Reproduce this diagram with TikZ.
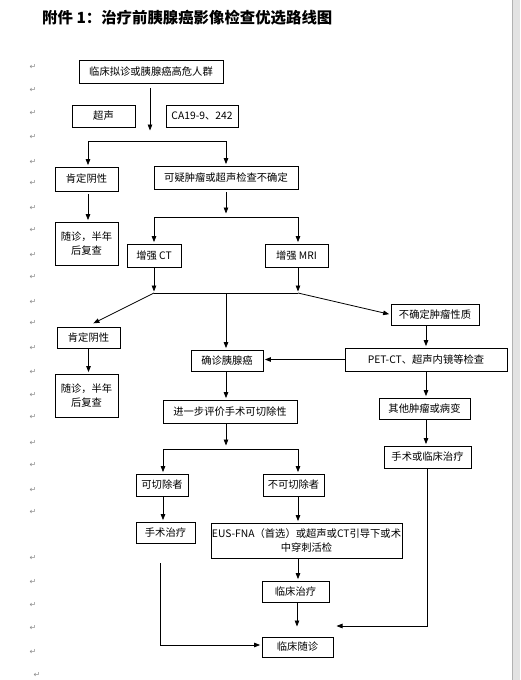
\documentclass[tikz,border=0pt]{standalone}
\usepackage{fontspec}
\setmainfont{Noto Sans CJK SC}
\newfontfamily\djv{DejaVu Sans}
\usetikzlibrary{arrows.meta}
\begin{document}
\begin{tikzpicture}[x=1pt,y=-1pt,
  box/.style={draw, line width=0.8pt, inner sep=0pt, align=center, font=\fontsize{10.3}{13.5}\selectfont},
  wh/.style n args={2}{minimum width=#1pt, minimum height=#2pt},
  arr/.style={line width=0.8pt, -{Triangle[length=6pt,width=4.5pt]}, shorten >=1.5pt},
  ln/.style={line width=0.8pt},
  pmark/.style={text=black!45, font=\djv\fontsize{8}{8}\selectfont, inner sep=0pt}]
\useasboundingbox (0,0) rectangle (520,680);
\fill[white] (0,0) rectangle (520,680);
\fill[black!11] (512,0) rectangle (520,680);
\draw[black!30, line width=0.8pt] (512.4,0) -- (512.4,680);

% title
\node[anchor=west, inner sep=0pt, font=\bfseries\fontsize{15.4}{17}\selectfont] (title) at (42,17.5) {附件 1：治疗前胰腺癌影像检查优选路线图};

% paragraph marks in the margin
\foreach \yy in {67,90,113,137,162,183,208,230,255,277,302,323,348,372,395,417,443,465,490,512,558,582,605,628,652}
  \node[pmark] (m\yy) at (33,\yy) {↵};
\node[pmark] (mlast) at (37,675) {↵};

% boxes
\node[box, wh={144}{23}] (start) at (151,71.5) {临床拟诊或胰腺癌高危人群};
\node[box, wh={63}{22}] (us) at (103.5,116) {超声};
\node[box, wh={72}{22}] (ca) at (202,116) {CA19-9、242};
\node[box, wh={63}{24}] (neg1) at (86.5,179) {肯定阴性};
\node[box, wh={144}{23}] (susp) at (226,177.5) {可疑肿瘤或超声检查不确定};
\node[box, wh={63}{43}] (fu1) at (86.5,243.5) {随诊，半年\\后复查};
\node[box, wh={54}{23}] (ct) at (154,255.5) {增强 CT};
\node[box, wh={63}{23}] (mri) at (296.5,255.5) {增强 MRI};
\node[box, wh={88}{21}] (unc) at (435,314.5) {不确定肿瘤性质};
\node[box, wh={63}{21}] (neg2) at (88.5,337.5) {肯定阴性};
\node[box, wh={72}{21}] (dx) at (227,360.5) {确诊胰腺癌};
\node[box, wh={162}{23}] (pet) at (426,359.5) {PET-CT、超声内镜等检查};
\node[box, wh={63}{43}] (fu2) at (86.5,395.5) {随诊，半年\\后复查};
\node[box, wh={134}{23}] (eval) at (230,411.5) {进一步评价手术可切除性};
\node[box, wh={91}{21}] (oth) at (424.5,408.5) {其他肿瘤或病变};
\node[box, wh={52}{22}] (res) at (162,485) {可切除者};
\node[box, wh={61}{22}] (unres) at (293.5,485) {不可切除者};
\node[box, wh={87}{22}] (sxoc) at (427.5,457) {手术或临床治疗};
\node[box, wh={59}{21}] (surg) at (165.5,532.5) {手术治疗};
\node[box, wh={191}{35}] (eus) at (306.5,540.5) {EUS-FNA（首选）或超声或CT引导下或术\\中穿刺活检};
\node[box, wh={67}{21}] (ctx) at (295.5,591.5) {临床治疗};
\node[box, wh={71}{20}] (clfu) at (297.5,647) {临床随诊};

% helper coordinates
\coordinate (a1) at (150,132);
\coordinate (b1l) at (88,141);
\coordinate (b1r) at (226,141);
\coordinate (c1) at (226,215);
\coordinate (c1l) at (154,217);
\coordinate (c1r) at (298,217);
\coordinate (d1l) at (154,293);
\coordinate (d1m) at (226,293);
\coordinate (d1r) at (298,293);
\coordinate (e1) at (92,324);
\coordinate (px) at (426,0);
\coordinate (f1) at (226,447);
\coordinate (g1l) at (163,449);
\coordinate (g1r) at (298,449);
\coordinate (h1) at (297,628);
\coordinate (k1) at (427,626);
\coordinate (k2) at (335,626);
\coordinate (m0) at (160,563);
\coordinate (m1) at (160,645);

% connectors
\draw[arr, shorten <=5pt] (start.south -| a1) -- (a1);
\draw[ln] (b1l) -- (b1r);
\draw[arr] (b1l) -- (b1l |- neg1.north);
\draw[arr] (b1r) -- (b1r |- susp.north);
\draw[arr, shorten <=3pt] (neg1.south -| b1l) -- (fu1.north -| b1l);
\draw[arr, shorten <=3pt] (susp.south -| c1) -- (c1);
\draw[ln] (c1l) -- (c1r);
\draw[arr] (c1l) -- (c1l |- ct.north);
\draw[arr] (c1r) -- (c1r |- mri.north);
\draw[arr] (ct.south -| d1l) -- (d1l);
\draw[arr] (mri.south -| d1r) -- (d1r);
\draw[ln] (d1l) -- (d1r);
\draw[arr] (d1l) -- (e1);
\draw[arr] (d1m) -- (dx.north -| d1m);
\draw[arr] (d1r) -- (unc.west);
\draw[arr] (unc.south -| px) -- (pet.north -| px);
\draw[arr] (pet.west) -- (pet.west -| dx.east);
\draw[arr] (neg2.south) -- (fu2.north -| neg2.south);
\draw[arr] (dx.south -| d1m) -- (eval.north -| d1m);
\draw[arr] (pet.south -| px) -- (oth.north -| px);
\draw[arr] (eval.south -| f1) -- (f1);
\draw[ln] (g1l) -- (g1r);
\draw[arr] (g1l) -- (g1l |- res.north);
\draw[arr] (g1r) -- (g1r |- unres.north);
\draw[arr] (oth.south -| px) -- (sxoc.north -| px);
\draw[arr] (res.south -| g1l) -- (surg.north -| g1l);
\draw[arr] (unres.south -| g1r) -- (eus.north -| g1r);
\draw[arr] (eus.south -| g1r) -- (ctx.north -| g1r);
\draw[arr] (ctx.south -| h1) -- (h1);
\draw[arr] (sxoc.south -| k1) -- (k1) -- (k2);
\draw[arr] (m0) -- (m1) -- (clfu.west |- m1);
\end{tikzpicture}
\end{document}
